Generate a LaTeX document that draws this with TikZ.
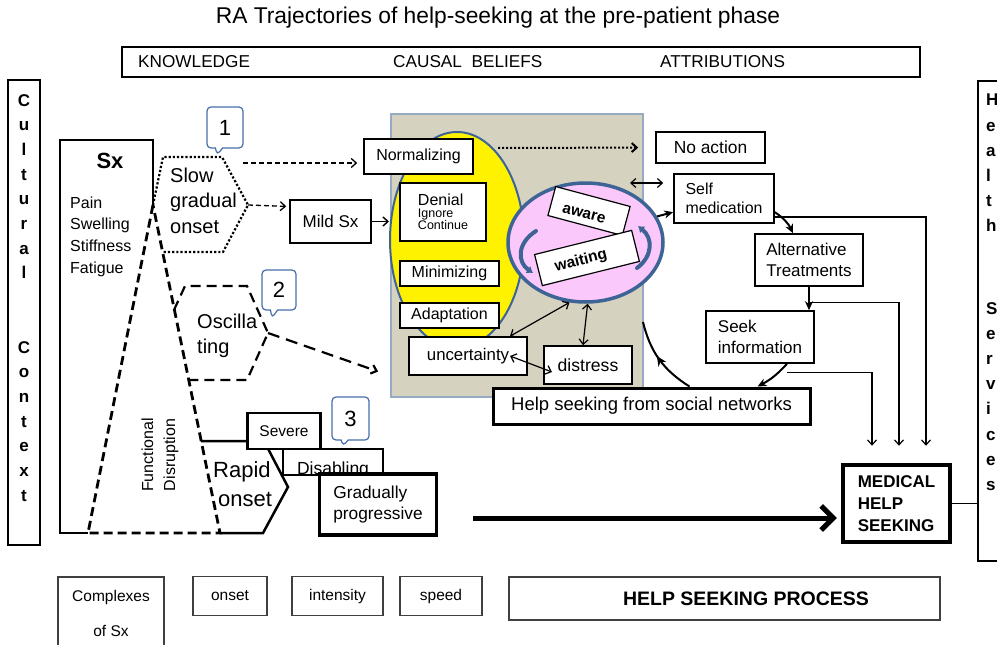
\documentclass[tikz,border=0pt]{standalone}
\usepackage{fontspec}
\setmainfont{Liberation Sans}
\usetikzlibrary{arrows.meta,positioning,shapes.geometric,shapes.callouts,calc,decorations.markings}
\definecolor{rablue}{RGB}{62,100,150}
\definecolor{racall}{RGB}{70,110,170}
\definecolor{ragrey}{RGB}{214,210,192}
\definecolor{ragreyline}{RGB}{150,170,195}
\definecolor{rapink}{RGB}{250,200,250}
\newcommand{\fsz}[2]{\fontsize{#1}{#2}\selectfont}

\begin{document}
\begin{tikzpicture}[x=1pt, y=-1pt,
  wbox/.style={rectangle, draw, line width=1.6pt, fill=white, inner sep=2pt, align=center},
  gbox/.style={rectangle, draw=black!75, line width=1.2pt, align=center, font=\fsz{15.5}{18}},
  ncall/.style={rectangle callout, rounded corners=4pt, draw=racall, line width=1.2pt,
                fill=white, minimum width=36, minimum height=41, font=\fsz{22}{26}},
  txt/.style={inner sep=0pt, align=left, anchor=north west},
  barb/.style={-{Straight Barb[length=5pt,width=9pt]}},
  dbl/.style={{Straight Barb[length=5pt,width=9pt]}-{Straight Barb[length=5pt,width=9pt]}, line width=1.2pt},
  cyc/.style={-{Stealth[length=9pt,width=8pt]}, line width=2pt},
  medarr/.style={barb, line width=1.2pt}
]
\useasboundingbox (0,0) rectangle (997,645);

% Title and top bar
\node[font=\fsz{22.8}{26}] (title) at (498,18) {RA Trajectories of help-seeking at the pre-patient phase};
\node[wbox, line width=1.8pt, minimum width=798, minimum height=30] (topbar) at (521,62) {};
\node[anchor=west, inner sep=0pt, font=\fsz{17.2}{19}] (know) at (138,62) {KNOWLEDGE};
\node[anchor=west, inner sep=0pt, font=\fsz{17.2}{19}] (caus) at (393,62) {CAUSAL\ \ BELIEFS};
\node[anchor=west, inner sep=0pt, font=\fsz{17.2}{19}] (attr) at (660,62) {ATTRIBUTIONS};

% Side boxes
\node[draw, line width=1.6pt, minimum width=32, minimum height=465] (cultbox) at (24,312.5) {};
\node[txt, anchor=north, align=center, font=\bfseries\fsz{17}{24.7}] (cult) at (24,94)
  {C\\u\\l\\t\\u\\r\\a\\l\\[49.4pt]C\\o\\n\\t\\e\\x\\t};
\node[draw, line width=1.6pt, minimum width=50, minimum height=480, anchor=north west] (servbox) at (977,80) {};
\node[txt, font=\bfseries\fsz{17}{25.2}] (serv) at (986,94)
  {H\\e\\a\\l\\t\\h\\[57pt]S\\e\\r\\v\\i\\c\\e\\s};

% Sx outline
\coordinate (apex) at (153,205);
\coordinate (lfoot) at (88,533);
\coordinate (rfoot) at (220,533);
\draw[line width=2.5pt] (apex) -- (153,140) -- (60,140) -- (60,533) -- (lfoot);
\draw[line width=2.8pt, dash pattern=on 9pt off 5pt] (apex) -- (lfoot) -- (rfoot) -- cycle;
\draw[line width=2.5pt] (201,441) -- (264,441) -- (288,487) -- (263,533) -- (rfoot);

% Onset shapes
\coordinate (sg-out) at (243,163);
\coordinate (sg-e) at (248,205);
\coordinate (osc-e) at (268,333);
\draw[line width=2.2pt, dotted] (apex) -- (163,157) -- (222,157) -- (sg-e) -- (223,252) -- (162,252);
\draw[line width=2.2pt, dash pattern=on 10pt off 6pt] (174,310) -- (185,286) -- (247,286) -- (osc-e) -- (247,380) -- (188,380);

\node[font=\bfseries\fsz{22}{26}] (sx) at (110,161) {Sx};
\node[txt, font=\fsz{16}{21.7}] (symp) at (70,196.5) {Pain\\Swelling\\Stiffness\\Fatigue};
\node[txt, font=\fsz{20}{25.7}] (slow) at (170,167.4) {Slow\\gradual\\onset};
\node[txt, font=\fsz{20}{25}] (osc) at (197,313.7) {Oscilla\\ting};
\node[txt, font=\fsz{22}{29}] (rapid) at (213,461) {Rapid\\\hspace*{5pt}onset};
\node[rotate=90, align=center, font=\fsz{16}{22}] (func) at (160,455) {Functional\\Disruption};

% Rapid onset boxes
\node[wbox, line width=2.6pt, minimum width=73, minimum height=36, font=\fsz{15.5}{18}] (sev) at (284,431) {Severe};
\node[wbox, line width=2.6pt, minimum width=100, minimum height=26] (dis) at (333,462) {};
\node[anchor=base, inner sep=0pt, font=\fsz{17.5}{20}] (distxt) at (333,474) {Disabling};
\node[wbox, line width=3.5pt, minimum width=117, minimum height=61, align=left, font=\fsz{17.3}{21}] (grad) at (378,504.5) {Gradually\\progressive};

% Callouts
\node[ncall, callout absolute pointer={(217,155)}] (c1) at (225,127.5) {1};
\node[ncall, callout absolute pointer={(272,318)}, minimum width=34, minimum height=40] (c2) at (279,290) {2};
\node[ncall, callout absolute pointer={(343,446)}, minimum width=37, minimum height=43] (c3) at (350.5,418.5) {3};

% Coping area
\node[rectangle, draw=ragreyline, line width=1.2pt, fill=ragrey, minimum width=252, minimum height=283] (grey) at (517,255.5) {};
\node[ellipse, draw=rablue, line width=2pt, fill=yellow, minimum width=134, minimum height=216] (yel) at (457,240) {};
\node[wbox, minimum width=81, minimum height=43, font=\fsz{17}{20}] (mild) at (330.5,221.5) {Mild Sx};
\node[wbox, minimum width=109, minimum height=35, font=\fsz{16}{19}] (norm) at (418.5,156.5) {Normalizing};
\node[wbox, minimum width=86, minimum height=58, align=left] (denial) at (443,212)
  {{\fsz{16}{18}Denial}\\{\fsz{12.5}{15}Ignore}\\{\fsz{12.5}{15}Continue}};
\node[wbox, minimum width=99, minimum height=25, font=\fsz{16}{19}] (mini) at (449.5,273.5) {Minimizing};
\node[wbox, minimum width=99, minimum height=25, font=\fsz{16}{19}] (adapt) at (449.5,315.5) {Adaptation};
\node[wbox, minimum width=118, minimum height=38, font=\fsz{16.8}{20}] (unc) at (468,356) {uncertainty};
\node[wbox, minimum width=88, minimum height=38, font=\fsz{17.6}{20}] (dist) at (588,365) {distress};
\node[ellipse, draw=rablue, line width=3.5pt, fill=rapink, minimum width=155, minimum height=119] (pink) at (585.5,242.5) {};
\node[wbox, line width=1.2pt, rotate=-15, minimum width=77, minimum height=30] (aware) at (589,211) {};
\node[inner sep=0pt, rotate=-15, font=\bfseries\fsz{15.5}{17}] (awaretxt) at (584,214) {aware};
\node[wbox, line width=1.2pt, rotate=14, minimum width=100, minimum height=32] (wait) at (587,258) {};
\node[inner sep=0pt, rotate=14, font=\bfseries\fsz{15.5}{17}] (waittxt) at (581,261) {waiting};
\draw[rablue, line width=4pt, line cap=round, -{Latex[length=6pt,width=9pt]}] (536,231) .. controls (517,243) and (517,262) .. (533,273);
\draw[rablue, line width=4pt, line cap=round, -{Latex[length=6pt,width=9pt]}] (637,268) .. controls (653,256) and (653,238) .. (638,226);

% Actions
\node[wbox, minimum width=109, minimum height=31, font=\fsz{17.4}{20}] (noact) at (710.5,147.5) {No action};
\node[wbox, minimum width=100, minimum height=49, align=left, font=\fsz{15.9}{19}] (selfmed) at (724,198.5) {Self\\medication};
\node[wbox, minimum width=108, minimum height=52, align=left, font=\fsz{17}{20.5}] (alt) at (809,260) {Alternative\\Treatments};
\node[wbox, minimum width=108, minimum height=52, align=left, font=\fsz{17}{20.5}] (seek) at (760,337) {Seek\\information};
\node[wbox, line width=3pt, minimum width=317, minimum height=36, font=\fsz{18.5}{21}] (help) at (651.5,406) {Help seeking from social networks};
\node[wbox, line width=4.5pt, minimum width=107, minimum height=77, align=left, font=\bfseries\fsz{17}{22}] (med) at (896.5,503.5) {MEDICAL\\HELP\\SEEKING};

% Bottom row
\node[gbox, minimum width=106, minimum height=73, font=\fsz{15.5}{35}] (cplx) at (111,613.5) {Complexes\\of Sx};
\node[gbox, minimum width=74, minimum height=39] (onset) at (230,596) {onset};
\node[gbox, minimum width=91, minimum height=39] (inten) at (337.5,596) {intensity};
\node[gbox, minimum width=82, minimum height=39] (speed) at (441,596) {speed};
\node[gbox, minimum width=431, minimum height=43, font=\bfseries\fsz{19.5}{22}] (hsp) at (724.5,598.5) {\hspace*{43pt}HELP SEEKING PROCESS};

% Arrows
\draw[barb, line width=1.3pt, dash pattern=on 5pt off 3pt, shorten >=6pt] (sg-out) -- (norm.west |- sg-out);
\draw[barb, line width=1.3pt, dash pattern=on 5pt off 3pt, shorten >=3pt] (sg-e) -- (mild.160);
\draw[barb, line width=1.4pt] (mild.east) -- (mild.east -| yel.west);
\draw[barb, line width=2.2pt, dash pattern=on 12pt off 7pt, shorten >=13pt] (osc-e) -- (grey.west |- unc.south);
\coordinate (dotstart) at (498,148);
\draw[barb, line width=2pt, dotted, shorten >=17pt] (dotstart) -- (noact.west);
\coordinate (smleft) at (630,183);
\draw[dbl, shorten >=10pt] (smleft) -- (selfmed.west |- smleft);
\draw[dbl] ([xshift=42pt]unc.north) -- (pink.255);
\draw[dbl] (pink.272) -- ([xshift=-5pt]dist.north);
\draw[dbl] ([xshift=42pt]unc.center) -- ([xshift=-36pt,yshift=-7pt]dist.center);

% Cycle
\draw[cyc] (pink.20) -- (selfmed.195);
\draw[cyc] (selfmed.345) to[bend left=15] ([xshift=-16pt]alt.north);
\draw[cyc] (alt.south) -- (alt.south |- seek.north);
\draw[cyc] ([xshift=27pt]seek.south) to[bend left=10] ([xshift=106pt]help.north);
\coordinate (arcend) at (643,322);
\draw[line width=2pt, postaction={decorate},
  decoration={markings, mark=at position 0.55 with {\arrow{Stealth[length=10pt,width=9pt]}}}]
  ([xshift=38pt]help.north) to[bend left=22] (arcend);

% To medical help
\draw[medarr] ([yshift=-18.5pt]selfmed.east) -| ([xshift=29.5pt,yshift=17pt]med.north);
\draw[medarr] ([yshift=-16pt]alt.south) -| ([xshift=2.5pt,yshift=17pt]med.north);
\draw[medarr] ([xshift=27pt,yshift=-9pt]seek.south) -| ([xshift=-24.5pt,yshift=17pt]med.north);
\coordinate (progend) at (473,518);
\draw[line width=5pt, -{Straight Barb[length=12pt,width=24pt]}, shorten >=4pt] (progend) -- (med.west |- progend);
\draw[line width=1.6pt] (med.east) -- (servbox.west |- med.east);
\end{tikzpicture}
\end{document}
